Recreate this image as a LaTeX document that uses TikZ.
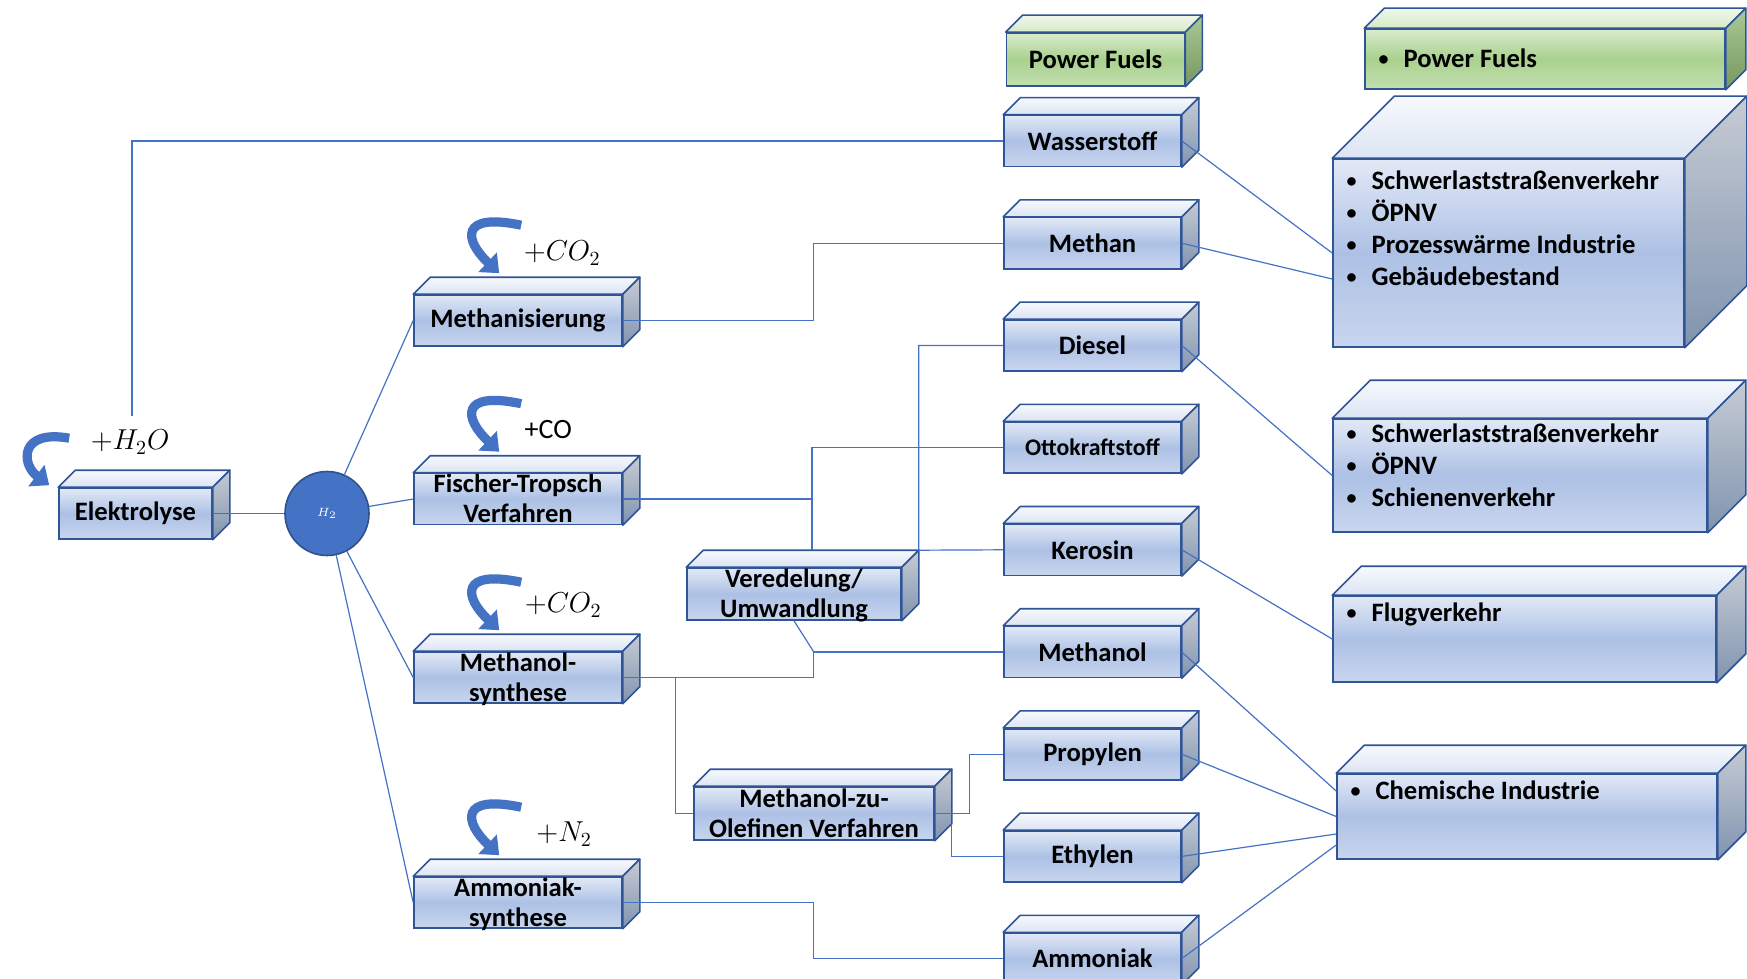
\documentclass[tikz,border=0pt]{standalone}
\usepackage{fontspec}
\setmainfont{Carlito}
\usetikzlibrary{positioning, arrows.meta}

\definecolor{edge}{HTML}{2F5597}
\definecolor{link}{HTML}{4472C4}
\definecolor{hubedge}{HTML}{2F528F}
\definecolor{fronttop}{HTML}{E2E9F6}
\definecolor{frontmid}{HTML}{ADC1E5}
\definecolor{frontbot}{HTML}{C8D5EE}
\definecolor{bltopback}{HTML}{F7F9FD}
\definecolor{bltopfront}{HTML}{DCE4F3}
\definecolor{blsidetop}{HTML}{C6CBD4}
\definecolor{blsidebot}{HTML}{8094AF}
\definecolor{gfronttop}{HTML}{D9EBCD}
\definecolor{gfrontmid}{HTML}{A9D18E}
\definecolor{gfrontbot}{HTML}{C3DFB0}
\definecolor{grtopback}{HTML}{F0F7EB}
\definecolor{grtopfront}{HTML}{D5E9C7}
\definecolor{grsidetop}{HTML}{A9C896}
\definecolor{grsidebot}{HTML}{76985E}

\newcommand{\twoline}[2]{\smash{\raisebox{-5pt}{\begin{tabular}{@{}c@{}}#1\\#2\end{tabular}}}}
\newcommand{\itm}[1]{\makebox[12.5pt][l]{\raisebox{1pt}{\fontsize{10}{10}\selectfont\textbullet}}#1}

\begin{document}
\begin{tikzpicture}[x=0.5pt, y=-0.5pt, node distance=24.8pt,
    box/.style = {draw=edge, line width=0.8pt, inner sep=0pt, minimum width=104pt, minimum height=25.5pt,
        top color=fronttop, bottom color=frontbot, middle color=frontmid, font=\fontsize{13.3}{15}\selectfont\bfseries},
    prod/.style = {box, minimum width=88.5pt},
    greenbox/.style = {box, top color=gfronttop, bottom color=gfrontbot, middle color=gfrontmid},
    topface/.style = {draw=edge, line width=0.8pt, line join=round, top color=#1topback, bottom color=#1topfront},
    sideface/.style = {draw=edge, line width=0.8pt, line join=round, top color=#1sidetop, bottom color=#1sidebot},
    hub/.style = {circle, draw=hubedge, line width=0.8pt, fill=link, minimum size=42pt, inner sep=0pt, text=white, font=\fontsize{6}{7}\selectfont},
    usetext/.style = {anchor=base west, inner sep=0pt, font=\fontsize{13.3}{16}\selectfont\bfseries},
    chem/.style = {inner sep=0pt, font=\fontsize{14}{16}\selectfont},
    feed/.style = {draw=link, line width=4.6pt, -{Triangle[length=8pt, width=13pt]}},
    link/.style = {draw=link, line width=0.6pt}]

    \fill[white] (0,0) rectangle (1747,979);
    \useasboundingbox (0,0) rectangle (1747,979);

    % processes
    \node[box, minimum width=76.5pt] (elek) at (135.5,513.5) {Elektrolyse};
    \node[hub] (h2) [right=35.7pt of elek] {$H_2$};
    \node[box] (meth) at (518,320.5) {Methanisierung};
    \node[box] (ft) [below=62.95pt of meth] {\twoline{Fischer-Tropsch}{Verfahren}};
    \node[box] (mos) [below=62.95pt of ft] {\twoline{Methanol-}{synthese}};
    \node[box] (ams) [below=86.2pt of mos] {\twoline{Ammoniak-}{synthese}};
    \node[box, minimum width=107pt, minimum height=26pt] (ver) at (794,594) {\twoline{Veredelung/}{Umwandlung}};
    \node[box, minimum width=120pt, minimum height=26.5pt] (mto) at (814,813.5) {\twoline{Methanol-zu-}{Olefinen Verfahren}};

    % power fuels
    \node[prod] (wasser) at (1092.5,141) {Wasserstoff};
    \node[greenbox, minimum width=89pt, minimum height=26.5pt] (pf) [above=14pt of wasser, xshift=1.5pt] {Power Fuels};
    \node[prod] (methan) [below=of wasser] {Methan};
    \node[prod] (diesel) [below=of methan] {Diesel};
    \node[prod, font=\fontsize{11.9}{14}\selectfont\bfseries] (otto) [below=of diesel] {Ottokraftstoff};
    \node[prod] (kerosin) [below=of otto] {Kerosin};
    \node[prod] (methanol) [below=of kerosin] {Methanol};
    \node[prod] (propylen) [below=of methanol] {Propylen};
    \node[prod] (ethylen) [below=of propylen] {Ethylen};
    \node[prod] (ammoniak) [below=of ethylen] {Ammoniak};

    % sectors
    \node[greenbox, minimum width=180pt, minimum height=30pt] (use0) at (1545,59) {};
    \node[box, minimum width=175.5pt, minimum height=94pt] (use1) at (1508.5,253) {};
    \node[box, minimum width=187pt, minimum height=56.5pt] (use2) at (1520,475.5) {};
    \node[box, minimum width=191.5pt, minimum height=43pt] (use3) at (1524.5,639) {};
    \node[box, minimum width=190pt, minimum height=42.5pt] (use4) at (1527,816.5) {};

    \foreach \n/\dep/\col in {elek/17/bl, meth/17/bl, ft/17/bl, mos/17/bl, ams/17/bl, ver/17/bl, mto/17/bl,
        pf/17/gr, wasser/17/bl, methan/17/bl, diesel/17/bl, otto/17/bl, kerosin/17/bl, methanol/17/bl,
        propylen/17/bl, ethylen/17/bl, ammoniak/17/bl, use0/20/gr, use1/62/bl, use2/38/bl, use3/29/bl, use4/28/bl}{
        \path[topface=\col] (\n.north west) -- ++(\dep,-\dep) -- ([shift={(\dep,-\dep)}]\n.north east) -- (\n.north east) -- cycle;
        \path[sideface=\col] (\n.north east) -- ++(\dep,-\dep) -- ([shift={(\dep,-\dep)}]\n.south east) -- (\n.south east) -- cycle;
    }

    \node[usetext] (t0) at ([shift={(14,39)}]use0.north west) {\itm{Power Fuels}};
    \node[usetext] (t1) at ([shift={(14,31)}]use1.north west) {\begin{tabular}[t]{@{}l@{}}
        \itm{Schwerlaststraßenverkehr}\\ \itm{ÖPNV}\\ \itm{Prozesswärme Industrie}\\ \itm{Gebäudebestand}\end{tabular}};
    \node[usetext] (t2) at ([shift={(14,24)}]use2.north west) {\begin{tabular}[t]{@{}l@{}}
        \itm{Schwerlaststraßenverkehr}\\ \itm{ÖPNV}\\ \itm{Schienenverkehr}\end{tabular}};
    \node[usetext] (t3) at ([shift={(14,26)}]use3.north west) {\itm{Flugverkehr}};
    \node[usetext] (t4) at ([shift={(14,26)}]use4.north west) {\itm{Chemische Industrie}};

    % educts
    \draw[feed] ([shift={(11,-49)}]elek.north west) .. controls +(-50,-9) and +(-28,-21) .. ([shift={(-9,-2)}]elek.north west);
    \foreach \b in {meth, ft, mos, ams}
        \draw[feed] ([shift={(108,-69)}]\b.north west) .. controls +(-62,-13) and +(-35,-33) .. ([shift={(86,-21)}]\b.north west);
    \node[chem] (lh2o) at ([shift={(72,-45)}]elek.north west) {$+H_2O$};
    \node[chem] (lco2a) at ([shift={(149,-41)}]meth.north west) {$+CO_2$};
    \node[chem] (lco) at ([shift={(135,-43)}]ft.north west) {+CO};
    \node[chem] (lco2b) at ([shift={(150,-46)}]mos.north west) {$+CO_2$};
    \node[chem] (ln2) at ([shift={(151,-42)}]ams.north west) {$+N_2$};

    % routes
    \coordinate (w0) at (132,416);
    \draw[link] (w0) |- (wasser.west);
    \draw[link] (elek.east) -- (h2);
    \foreach \b in {meth, ft, mos, ams}
        \draw[link] (h2) -- (\b.west);
    \draw[link] (meth.east) -- ++(191,0) |- (methan.west);
    \draw[link] (ft.east) -- ++(190,0) |- (otto.west);
    \draw[link] ([shift={(18,-17)}]ver.north) |- (otto.west);
    \draw[link] (diesel.west) -| ([shift={(17,-17)}]ver.north east) -- (kerosin.west);
    \draw[link] (mos.east) -- ++(191,0) coordinate (mj) |- (methanol.west);
    \draw[link] (ver.south) -- (mj |- methanol.west);
    \draw[link] ([xshift=26.5pt]mos.east) |- (mto.west);
    \draw[link] (mto.east) -- ++(35,0) |- (propylen.west);
    \draw[link] ([shift={(17,-17)}]mto.south east) |- (ethylen.west);
    \draw[link] (ams.east) -- ++(191,0) |- (ammoniak.west);

    \draw[link] (wasser.east) -- (use1.west);
    \draw[link] (methan.east) -- ([yshift=-13pt]use1.west);
    \draw[link] (diesel.east) -- (use2.west);
    \draw[link] (kerosin.east) -- (use3.west);
    \draw[link] (methanol.east) -- ([yshift=12.75pt]use4.west);
    \draw[link] (propylen.east) -- (use4.west);
    \draw[link] (ethylen.east) -- ([yshift=-8.75pt]use4.west);
    \draw[link] (ammoniak.east) -- ([yshift=-14.25pt]use4.west);
\end{tikzpicture}
\end{document}
